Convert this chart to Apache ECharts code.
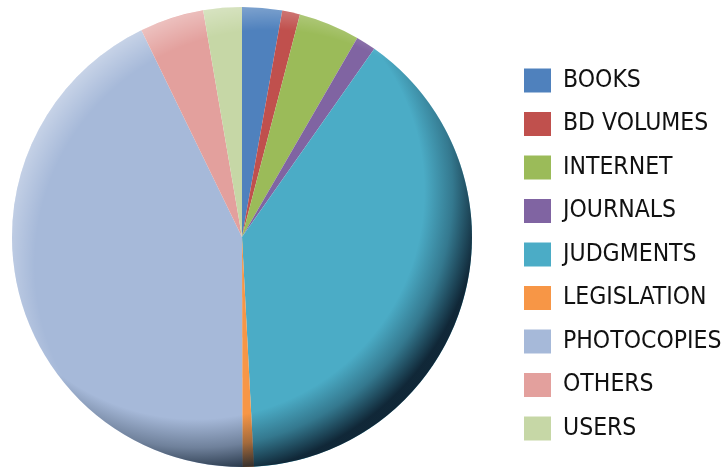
<!DOCTYPE html>
<html>
<head>
<meta charset="utf-8">
<script src="https://cdn.jsdelivr.net/npm/echarts@6/dist/echarts.min.js"></script>
<style>
  html, body { margin: 0; padding: 0; background: #fff; }
  #chart { width: 726px; height: 467px; }
</style>
</head>
<body>
<div id="chart"></div>
<script>
// shares (percent)
var categories = ["BOOKS", "BD VOLUMES", "INTERNET", "JOURNALS", "JUDGMENTS",
                  "LEGISLATION", "PHOTOCOPIES", "OTHERS", "USERS"];
var shares = [2.8, 1.25, 4.3, 1.4, 39.4, 0.8, 42.8, 4.5, 2.7];
var colors = ["#4F81BD", "#C0504D", "#9BBB59", "#8064A2", "#4BACC6",
              "#F79646", "#A6B9D9", "#E3A09D", "#C6D7A6"];

var chart = echarts.init(document.getElementById("chart"));

var pieData = categories.map(function (name, i) {
  return { name: name, value: shares[i] };
});

var option = {
  animation: false,
  color: colors,
  legend: {
    orient: "vertical",
    left: 524,
    top: 68,
    padding: 0,
    itemWidth: 27,
    itemHeight: 24,
    itemGap: 18.5,
    icon: "rect",
    data: categories,
    textStyle: {
      fontFamily: "'Liberation Sans Narrow', 'DejaVu Sans Condensed', sans-serif",
      fontSize: 24.5,
      color: "#111",
      padding: [0, 0, 0, 7]
    }
  },
  series: [
    {
      name: "usage",
      type: "pie",
      center: [242, 237],
      radius: 230,
      startAngle: 90,
      clockwise: true,
      label: { show: false },
      labelLine: { show: false },
      itemStyle: { borderWidth: 0 },
      data: pieData
    },
    {
      // dark bevel toward the lower right
      type: "pie",
      silent: true,
      center: [242, 237],
      radius: 230,
      label: { show: false },
      labelLine: { show: false },
      data: [{
        value: 1,
        itemStyle: {
          color: {
            type: "radial", x: 0.4, y: 0.4, r: 0.62,
            colorStops: [
              { offset: 0, color: "rgba(10,25,40,0)" },
              { offset: 0.8, color: "rgba(10,25,40,0)" },
              { offset: 0.9, color: "rgba(10,25,40,0.35)" },
              { offset: 1, color: "rgba(10,25,40,0.9)" }
            ]
          }
        }
      }]
    },
    {
      // light rim toward the upper left
      type: "pie",
      silent: true,
      center: [242, 237],
      radius: 230,
      label: { show: false },
      labelLine: { show: false },
      data: [{
        value: 1,
        itemStyle: {
          color: {
            type: "radial", x: 0.56, y: 0.56, r: 0.6,
            colorStops: [
              { offset: 0, color: "rgba(255,255,255,0)" },
              { offset: 0.85, color: "rgba(255,255,255,0)" },
              { offset: 1, color: "rgba(255,255,255,0.45)" }
            ]
          }
        }
      }]
    }
  ]
};

chart.setOption(option);
</script>
</body>
</html>
